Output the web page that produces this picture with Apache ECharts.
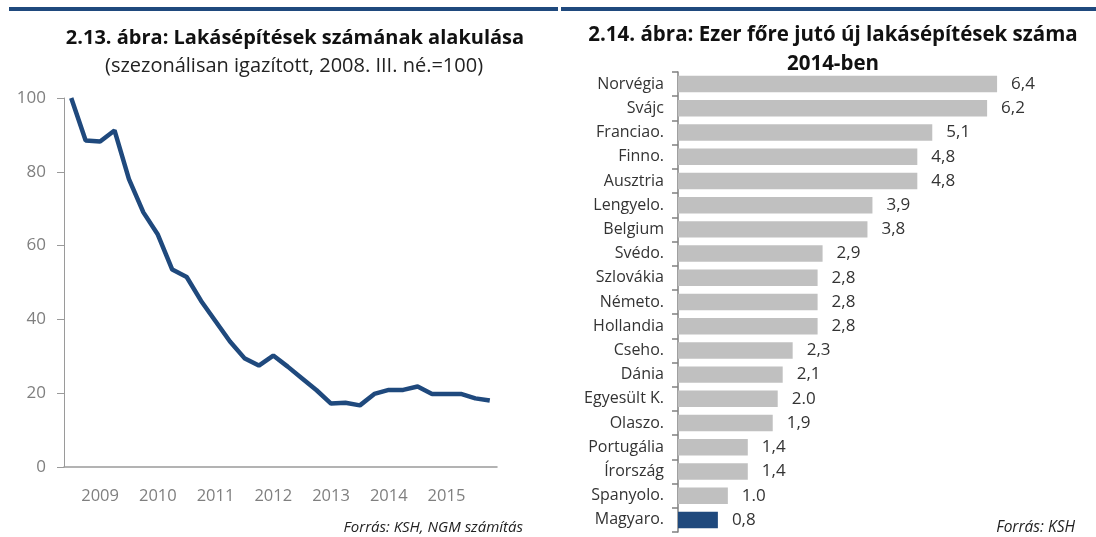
<!DOCTYPE html>
<html>
<head>
<meta charset="utf-8">
<script src="https://cdn.jsdelivr.net/npm/echarts@6/dist/echarts.min.js"></script>
<style>
html,body{margin:0;padding:0;background:#fff;}
#c{width:1096px;height:537px;}
</style>
</head>
<body>
<div id="c"></div>
<script>
// Left chart: quarterly index, 2008 Q3 = 100
const quarters = ["2008 Q3","2008 Q4",
  "2009 Q1","2009 Q2","2009 Q3","2009 Q4",
  "2010 Q1","2010 Q2","2010 Q3","2010 Q4",
  "2011 Q1","2011 Q2","2011 Q3","2011 Q4",
  "2012 Q1","2012 Q2","2012 Q3","2012 Q4",
  "2013 Q1","2013 Q2","2013 Q3","2013 Q4",
  "2014 Q1","2014 Q2","2014 Q3","2014 Q4",
  "2015 Q1","2015 Q2","2015 Q3","2015 Q4"];
const indexValues = [100, 88.5, 88.2, 91.2, 78, 69, 63, 53.5, 51.5, 45,
  39.5, 34, 29.5, 27.5, 30.2, 27.2, 24, 20.8, 17.2, 17.4,
  16.7, 19.8, 20.9, 20.9, 21.8, 19.8, 19.8, 19.8, 18.6, 18.0];

// Right chart: new dwellings per 1000 inhabitants, 2014
const countries = ["Norvégia","Svájc","Franciao.","Finno.","Ausztria","Lengyelo.","Belgium","Svédo.","Szlovákia","Németo.","Hollandia","Cseho.","Dánia","Egyesült K.","Olaszo.","Portugália","Írország","Spanyolo.","Magyaro."];
const perThousand = [6.4, 6.2, 5.1, 4.8, 4.8, 3.9, 3.8, 2.9, 2.8, 2.8, 2.8, 2.3, 2.1, 2.0, 1.9, 1.4, 1.4, 1.0, 0.8];
const valueLabels = ["6,4","6,2","5,1","4,8","4,8","3,9","3,8","2,9","2,8","2,8","2,8","2,3","2,1","2.0","1,9","1,4","1,4","1.0","0,8"];

const FONT = "Open Sans";
const BLUE = "#1F497D";
const GRAY = "#C0C0C0";

const chart = echarts.init(document.getElementById('c'));
chart.setOption({
  animation: false,
  textStyle: {fontFamily: FONT},
  title: [
    {text: "2.13. ábra: Lakásépítések számának alakulása", left: 290, top: 23, textAlign: 'center',
     textStyle: {fontFamily: FONT, fontSize: 20, fontWeight: 'bold', color: '#111'}},
    {text: "(szezonálisan igazított, 2008. III. né.=100)", left: 289, top: 51, textAlign: 'center',
     textStyle: {fontFamily: FONT, fontSize: 20, fontWeight: 'normal', color: '#222'}},
    {text: "2.14. ábra: Ezer főre jutó új lakásépítések száma", left: 828, top: 20, textAlign: 'center',
     textStyle: {fontFamily: FONT, fontSize: 20.5, fontWeight: 'bold', color: '#111'}},
    {text: "2014-ben", left: 828, top: 49, textAlign: 'center',
     textStyle: {fontFamily: FONT, fontSize: 20.5, fontWeight: 'bold', color: '#111'}},
    {text: "Forrás: KSH, NGM számítás", right: 568, top: 515,
     textStyle: {fontFamily: FONT, fontSize: 15, fontStyle: 'italic', fontWeight: 'normal', color: '#222'}},
    {text: "Forrás: KSH", right: 16, top: 515,
     textStyle: {fontFamily: FONT, fontSize: 15.5, fontStyle: 'italic', fontWeight: 'normal', color: '#222'}}
  ],
  graphic: [
    {type: 'rect', shape: {x: 9, y: 7, width: 549, height: 4}, style: {fill: BLUE}},
    {type: 'rect', shape: {x: 561, y: 7, width: 535, height: 4}, style: {fill: BLUE}}
  ],
  grid: [
    {left: 64, top: 98, width: 433, height: 369, containLabel: false},
    {left: 678, top: 72, width: 349, height: 460, containLabel: false}
  ],
  xAxis: [
    {type: 'category', gridIndex: 0, data: quarters, boundaryGap: true,
     axisLine: {lineStyle: {color: '#9a9a9a', width: 1.5}},
     axisTick: {show: false},
     axisLabel: {interval: (i) => (i - 2) % 4 === 0, formatter: (v) => v.slice(0, 4),
       color: '#7f7f7f', fontSize: 16.5, margin: 21, fontFamily: FONT}},
    {type: 'value', gridIndex: 1, min: 0, max: 7, show: false, splitLine: {show: false}}
  ],
  yAxis: [
    {type: 'value', gridIndex: 0, min: 0, max: 100, interval: 20,
     axisLine: {show: true, lineStyle: {color: '#9a9a9a', width: 1}},
     axisTick: {show: true, length: 7, lineStyle: {color: '#9a9a9a'}},
     splitLine: {show: false},
     axisLabel: {color: '#7f7f7f', fontSize: 17, margin: 18, fontFamily: FONT}},
    {type: 'category', gridIndex: 1, data: countries, inverse: true,
     axisLine: {show: true, lineStyle: {color: '#808080', width: 1.5}},
     axisTick: {show: true, length: 6, lineStyle: {color: '#808080', width: 1.5}},
     axisLabel: {color: '#333', fontSize: 16, margin: 14, fontFamily: FONT}}
  ],
  series: [
    {type: 'line', xAxisIndex: 0, yAxisIndex: 0, data: indexValues, symbol: 'none',
     lineStyle: {color: BLUE, width: 4.5}},
    {type: 'bar', xAxisIndex: 1, yAxisIndex: 1,
     data: perThousand.map((v, i) => ({value: v,
       itemStyle: {color: countries[i] === 'Magyaro.' ? BLUE : GRAY}})),
     barCategoryGap: '32%',
     label: {show: true, position: 'right', distance: 14, color: '#333', fontSize: 17, fontFamily: FONT,
       formatter: (p) => valueLabels[p.dataIndex]}}
  ]
});
</script>
</body>
</html>
